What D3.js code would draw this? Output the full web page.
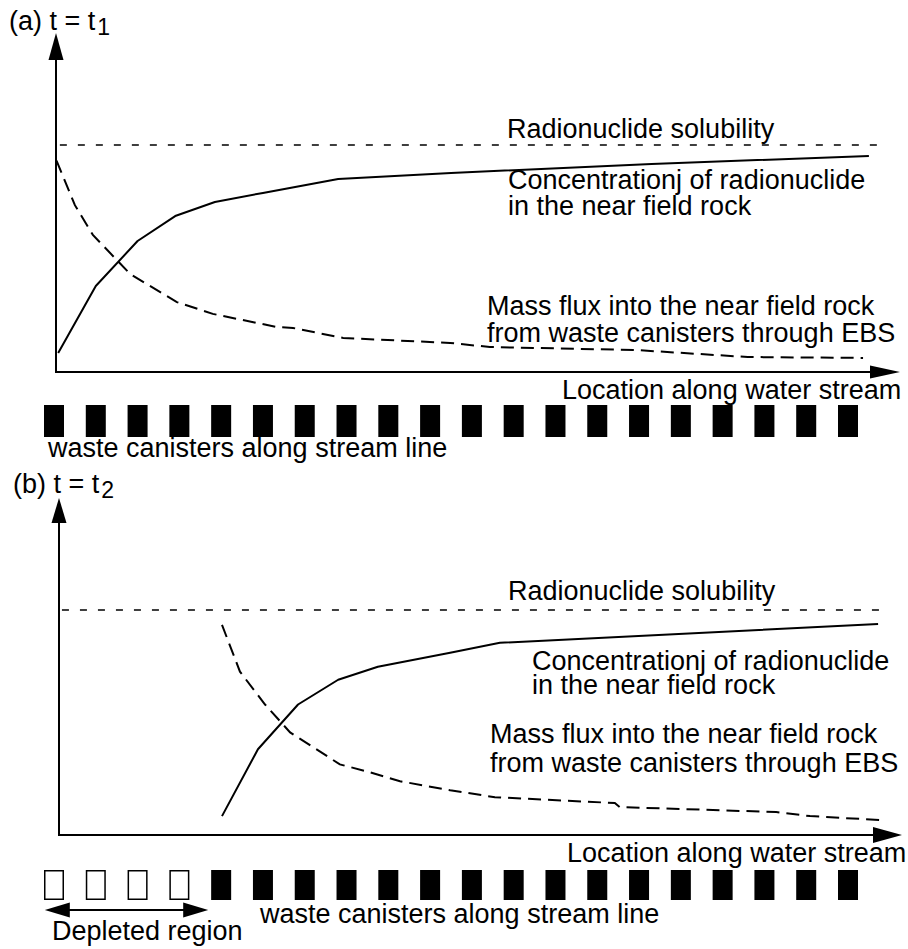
<!DOCTYPE html>
<html>
<head>
<meta charset="utf-8">
<script src="https://cdn.jsdelivr.net/npm/d3@7"></script>
<style>
  body { margin: 0; background: #fff; }
  svg { display: block; }
  text { font-family: "Liberation Sans", Arial, Helvetica, sans-serif; fill: #000; }
</style>
</head>
<body>
<script>
// Location along the stream is measured in canister pitches (first canister = 0, last = 19).
// Concentration and mass flux are expressed relative to the radionuclide solubility.

// (a) t = t1
const concLocA = [0.1, 1.0, 2.0, 2.9, 3.85, 5.0, 6.8, 9.5, 14.3, 19.5];
const concValA = [0.084, 0.379, 0.577, 0.687, 0.749, 0.789, 0.850, 0.877, 0.916, 0.952];
const fluxLocA = [0.06, 0.5, 0.93, 1.82, 2.94, 3.8, 5.34, 5.72, 6.92, 9.48, 10.43, 13.9, 16.6, 19.36];
const fluxValA = [0.931, 0.735, 0.604, 0.432, 0.308, 0.256, 0.198, 0.194, 0.150, 0.128, 0.110, 0.097, 0.066, 0.062];
const solubilitySpanA = [0.14, 19.72];

// (b) t = t2
const concLocB = [4.02, 4.88, 5.84, 6.80, 7.75, 9.48, 10.67, 19.72];
const concValB = [0.084, 0.381, 0.580, 0.690, 0.748, 0.810, 0.854, 0.938];
const fluxLocB = [4.02, 4.45, 5.05, 5.65, 6.84, 7.56, 8.28, 9.48, 10.55, 13.42, 13.54, 17.28, 18.09, 19.81];
const fluxValB = [0.934, 0.726, 0.580, 0.456, 0.314, 0.279, 0.239, 0.199, 0.168, 0.142, 0.124, 0.102, 0.084, 0.066];
const solubilitySpanB = [0.19, 19.77];

const solubility = 1.0;

// Canister state along the stream line
const canistersA = ["intact","intact","intact","intact","intact","intact","intact","intact","intact","intact",
                    "intact","intact","intact","intact","intact","intact","intact","intact","intact","intact"];
const canistersB = ["depleted","depleted","depleted","depleted","intact","intact","intact","intact","intact","intact",
                    "intact","intact","intact","intact","intact","intact","intact","intact","intact","intact"];
const depletedSpan = [-0.22, 3.69];

// Labels
const titleA = ["(a) t = t", "1"];
const titleB = ["(b) t = t", "2"];
const labelSolubility = "Radionuclide solubility";
const labelConc = ["Concentrationj of radionuclide", "in the near field rock"];
const labelFlux = ["Mass flux into the near field rock", "from waste canisters through EBS"];
const labelAxisX = "Location along water stream";
const labelCanisters = "waste canisters along stream line";
const labelDepleted = "Depleted region";

const W = 908, H = 949;
const svg = d3.select("body").append("svg").attr("width", W).attr("height", H);

const x = d3.scaleLinear().domain([0, 19]).range([54, 848]);

const panels = [
  { title: titleA, y: d3.scaleLinear().domain([0, 1]).range([372, 145]),
    axisX0: 56, axisTop: 33, axisRight: 900, headW: 15, headH: 27, headXLen: 30, headXH: 13,
    concLoc: concLocA, concVal: concValA, fluxLoc: fluxLocA, fluxVal: fluxValA, sol: solubilitySpanA,
    titlePos: [9, 30], solLabel: [507, 138], concLabel: [508, 189, 26], fluxLabel: [487, 315, 27],
    axisLabel: [562, 399], canisters: canistersA, canY: 405, canH: 32, canLabel: [48, 457] },
  { title: titleB, y: d3.scaleLinear().domain([0, 1]).range([835, 610]),
    axisX0: 59, axisTop: 498, axisRight: 902, headW: 15, headH: 25, headXLen: 29, headXH: 16,
    concLoc: concLocB, concVal: concValB, fluxLoc: fluxLocB, fluxVal: fluxValB, sol: solubilitySpanB,
    titlePos: [13, 493], solLabel: [508, 600], concLabel: [532, 670, 24], fluxLabel: [490, 743, 29],
    axisLabel: [567, 862], canisters: canistersB, canY: 870, canH: 30, canLabel: [260, 923] }
];

const FS = 27;

panels.forEach(p => {
  const g = svg.append("g");
  const y0 = p.y(0);

  // Title with subscript
  const t = g.append("text").attr("x", p.titlePos[0]).attr("y", p.titlePos[1]).attr("font-size", FS);
  t.append("tspan").text(p.title[0]);
  t.append("tspan").attr("dx", 2).attr("dy", 5).attr("font-size", 23).text(p.title[1]);

  // Axes
  g.append("line").attr("x1", p.axisX0).attr("y1", y0).attr("x2", p.axisX0).attr("y2", p.axisTop + p.headH - 1)
    .attr("stroke", "#000").attr("stroke-width", 2);
  g.append("path")
    .attr("d", `M${p.axisX0},${p.axisTop} L${p.axisX0 - p.headW / 2},${p.axisTop + p.headH} L${p.axisX0 + p.headW / 2},${p.axisTop + p.headH} Z`)
    .attr("fill", "#000");
  g.append("line").attr("x1", p.axisX0 - 1).attr("y1", y0).attr("x2", p.axisRight - p.headXLen + 1).attr("y2", y0)
    .attr("stroke", "#000").attr("stroke-width", 2);
  g.append("path")
    .attr("d", `M${p.axisRight},${y0} L${p.axisRight - p.headXLen},${y0 - p.headXH / 2} L${p.axisRight - p.headXLen},${y0 + p.headXH / 2} Z`)
    .attr("fill", "#000");

  // Solubility limit
  g.append("line")
    .attr("x1", x(p.sol[0])).attr("x2", x(p.sol[1]))
    .attr("y1", p.y(solubility)).attr("y2", p.y(solubility))
    .attr("stroke", "#000").attr("stroke-width", 1.5).attr("stroke-dasharray", "7 11");

  const line = d3.line().x(d => x(d[0])).y(d => p.y(d[1]));

  // Concentration in the near field rock
  g.append("path").datum(d3.zip(p.concLoc, p.concVal)).attr("d", line)
    .attr("fill", "none").attr("stroke", "#000").attr("stroke-width", 2).attr("stroke-linejoin", "round");

  // Mass flux from canisters
  g.append("path").datum(d3.zip(p.fluxLoc, p.fluxVal)).attr("d", line)
    .attr("fill", "none").attr("stroke", "#000").attr("stroke-width", 2).attr("stroke-dasharray", "13 7");

  // Curve labels
  g.append("text").attr("x", p.solLabel[0]).attr("y", p.solLabel[1]).attr("font-size", FS).text(labelSolubility);
  labelConc.forEach((s, i) => g.append("text").attr("x", p.concLabel[0]).attr("y", p.concLabel[1] + i * p.concLabel[2])
    .attr("font-size", FS).text(s));
  labelFlux.forEach((s, i) => g.append("text").attr("x", p.fluxLabel[0]).attr("y", p.fluxLabel[1] + i * p.fluxLabel[2])
    .attr("font-size", FS).text(s));
  g.append("text").attr("x", p.axisLabel[0]).attr("y", p.axisLabel[1]).attr("font-size", FS).text(labelAxisX);

  // Canisters
  g.selectAll("rect.can").data(p.canisters).join("rect")
    .attr("class", "can")
    .attr("x", (d, i) => d === "intact" ? x(i) - 10 : x(i) - 9.25)
    .attr("y", d => d === "intact" ? p.canY : p.canY + 0.75)
    .attr("width", d => d === "intact" ? 20 : 18.5)
    .attr("height", d => d === "intact" ? p.canH : p.canH - 1.5)
    .attr("fill", d => d === "intact" ? "#000" : "#fff")
    .attr("stroke", d => d === "intact" ? "none" : "#000")
    .attr("stroke-width", 1.5);
  g.append("text").attr("x", p.canLabel[0]).attr("y", p.canLabel[1]).attr("font-size", FS).text(labelCanisters);
});

// Depleted region marker (panel b)
const dy = 910, dx0 = x(depletedSpan[0]), dx1 = x(depletedSpan[1]);
svg.append("line").attr("x1", dx0 + 20).attr("x2", dx1 - 20).attr("y1", dy).attr("y2", dy)
  .attr("stroke", "#000").attr("stroke-width", 2);
svg.append("path").attr("d", `M${dx0},${dy} L${dx0 + 25},${dy - 7.5} L${dx0 + 25},${dy + 7.5} Z`).attr("fill", "#000");
svg.append("path").attr("d", `M${dx1},${dy} L${dx1 - 25},${dy - 7.5} L${dx1 - 25},${dy + 7.5} Z`).attr("fill", "#000");
svg.append("text").attr("x", 52).attr("y", 940).attr("font-size", FS).text(labelDepleted);
</script>
</body>
</html>
